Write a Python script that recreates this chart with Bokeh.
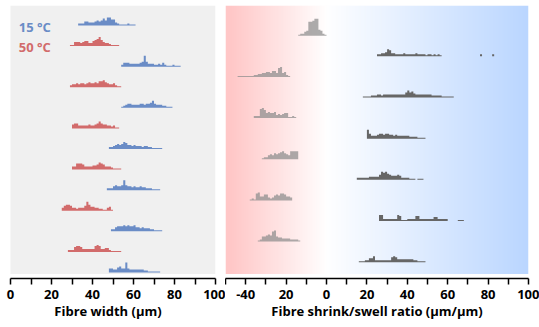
import numpy as np
from bokeh.plotting import figure
from bokeh.layouts import row
from bokeh.models import FixedTicker, Range1d, Label
from bokeh.embed import file_html
from bokeh.resources import INLINE

# ---------------- data (histogram counts per 1 µm bin) ----------------
# Fibre width, rows from top to bottom alternate 15 °C / 50 °C
width_starts = [33, 29, 54, 29, 54, 30, 48, 30, 47, 25, 49, 28, 48]
width_temps = ["15", "50", "15", "50", "15", "50", "15", "50", "15", "50", "15", "50", "15"]
width_counts = [
    [2, 2, 2, 4, 4, 3, 3, 3, 4, 5, 4, 5, 7, 5, 8, 8, 6, 6, 3, 2, 1, 1, 1, 1, 2, 1, 1, 1],
    [1, 1, 4, 4, 4, 3, 4, 5, 5, 3, 3, 5, 6, 7, 9, 6, 4, 3, 3, 2, 1, 1, 1, 1],
    [2, 4, 4, 4, 3, 3, 3, 3, 3, 4, 5, 11, 5, 3, 3, 3, 2, 2, 3, 2, 4, 2, 1, 1, 1, 2, 1, 1, 1],
    [2, 3, 3, 4, 3, 4, 4, 3, 4, 5, 4, 4, 5, 4, 6, 6, 7, 5, 4, 3, 3, 4, 2, 1, 1],
    [1, 2, 3, 4, 4, 3, 3, 3, 3, 4, 4, 3, 4, 4, 5, 7, 4, 3, 3, 3, 2, 2, 1, 1, 1],
    [4, 5, 5, 3, 3, 3, 3, 3, 4, 3, 3, 4, 5, 7, 5, 4, 4, 3, 3, 2, 3, 1, 1],
    [2, 2, 3, 4, 5, 4, 5, 7, 6, 4, 4, 3, 4, 3, 3, 3, 2, 3, 3, 2, 2, 1, 1, 1, 1, 1],
    [3, 3, 6, 6, 6, 5, 3, 3, 3, 3, 4, 4, 5, 7, 6, 5, 3, 3, 3, 2, 1, 1, 1, 1],
    [2, 2, 2, 4, 5, 4, 4, 5, 10, 5, 4, 4, 3, 4, 3, 3, 4, 3, 3, 2, 2, 2, 1, 1, 1, 1],
    [3, 5, 6, 6, 5, 3, 3, 2, 3, 3, 3, 5, 9, 6, 4, 4, 3, 3, 2, 2, 1, 1, 3, 4, 1],
    [2, 2, 4, 5, 5, 5, 6, 5, 6, 5, 5, 6, 4, 4, 3, 4, 3, 3, 3, 2, 2, 1, 1, 1, 1],
    [2, 2, 2, 5, 6, 6, 5, 3, 3, 3, 3, 3, 3, 6, 7, 6, 3, 3, 4, 4, 2, 1, 1, 1, 1, 1],
    [4, 4, 3, 3, 5, 6, 4, 4, 10, 4, 3, 3, 3, 3, 3, 3, 3, 2, 2, 1, 1, 1, 1, 1, 1],
]

# Fibre shrink/swell ratio, rows from top to bottom
ratio_starts = [-14, 25, -44, 18, -36, 20, -32, 15, -38, 26, -34, 16]
ratio_counts = [
    [1, 2, 2, 4, 5, 14, 14, 15, 17, 17, 6, 5, 2, 1],
    [2, 2, 3, 3, 4, 7, 6, 3, 3, 2, 2, 2, 2, 3, 2, 2, 2, 2, 2, 3, 2, 2, 2, 2, 1, 2, 2, 1, 2, 1, 2, 1,
     0, 0, 0, 0, 0, 0, 0, 0, 0, 0, 0, 0, 0, 0, 0, 0, 0, 0, 0, 2, 0, 0, 0, 0, 0, 2],
    [1, 1, 1, 1, 1, 1, 1, 1, 2, 2, 3, 3, 4, 4, 5, 5, 4, 6, 6, 4, 9, 10, 4, 5, 2, 1],
    [1, 1, 1, 1, 2, 2, 2, 3, 3, 2, 3, 3, 3, 3, 3, 3, 3, 3, 3, 3, 3, 5, 7, 5, 6, 4, 3, 3, 3, 3, 3, 3,
     3, 3, 2, 2, 2, 2, 2, 1, 1, 1, 1, 1, 1],
    [2, 2, 2, 9, 10, 8, 5, 6, 5, 5, 6, 3, 4, 3, 4, 5, 5, 1, 1, 2, 1],
    [9, 5, 3, 3, 3, 4, 5, 5, 4, 5, 5, 4, 4, 3, 4, 3, 3, 3, 3, 3, 3, 2, 2, 2, 2, 1, 1, 1, 1],
    [1, 2, 2, 4, 5, 4, 6, 5, 6, 7, 8, 6, 5, 4, 8, 8, 8, 8],
    [2, 2, 2, 2, 2, 2, 3, 3, 3, 3, 3, 5, 8, 7, 8, 6, 5, 4, 4, 4, 5, 4, 2, 2, 2, 2, 1, 1, 1, 0, 1, 1, 1],
    [1, 2, 1, 7, 8, 4, 4, 6, 6, 3, 2, 3, 5, 6, 5, 7, 7, 6, 4, 4, 3],
    [6, 6, 2, 2, 2, 2, 2, 2, 2, 6, 5, 1, 1, 1, 2, 2, 2, 2, 5, 5, 2, 2, 2, 2, 2, 2, 2, 4, 4, 2, 2, 2,
     2, 2, 0, 0, 0, 0, 0, 1, 1, 1],
    [1, 2, 5, 5, 6, 7, 6, 10, 11, 5, 4, 4, 3, 3, 3, 3, 2, 2, 2, 2, 1],
    [1, 1, 1, 2, 2, 4, 4, 6, 2, 2, 2, 2, 2, 2, 2, 2, 5, 6, 5, 3, 3, 3, 3, 3, 3, 3, 3, 2, 2, 1, 1, 1, 1],
]

width_ticks = [0, 20, 40, 60, 80, 100]
width_minor = [10, 30, 50, 70, 90]
ratio_ticks = [-40, -20, 0, 20, 40, 60, 80, 100]
ratio_minor = [-50, -30, -10, 10, 30, 50, 70, 90]
ratio_tick_labels = ["-40", "20", "0", "20", "40", "60", "80", "100"]

# ---------------- styling ----------------
BLUE = "#6a8cc6"
RED = "#d26b6b"
DARK = "#666666"
LIGHT = "#8c8c8c"
FONT = "Open Sans"

H = 327
TOP = 5           # page top to panel top
ROW = 20.58       # vertical pitch between rows (px)
TOP_GAP = 20.0    # panel top to first row baseline
FRAME_H = 273
PANEL_BOTTOM = -268.5


def step_poly(start, counts, base):
    edges = start + np.arange(len(counts) + 1)
    xs = [float(edges[0])]
    ys = [base]
    for k, c in enumerate(counts):
        xs += [float(edges[k]), float(edges[k + 1])]
        ys += [base + c, base + c]
    xs.append(float(edges[-1]))
    ys.append(base)
    return xs, ys


def style_axis(ax, ticks, minor, title):
    ax.ticker = FixedTicker(ticks=ticks, minor_ticks=minor)
    ax.axis_label = title
    ax.axis_line_color = "black"
    ax.axis_line_width = 1.5
    ax.major_tick_line_color = "black"
    ax.minor_tick_line_color = "black"
    ax.major_tick_line_width = 1.5
    ax.minor_tick_line_width = 1.5
    ax.major_tick_in = 0
    ax.major_tick_out = 6
    ax.minor_tick_in = 0
    ax.minor_tick_out = 6
    ax.major_label_text_font = FONT
    ax.major_label_text_font_style = "bold"
    ax.major_label_text_font_size = "13px"
    ax.major_label_text_color = "black"
    ax.major_label_standoff = 5
    ax.axis_label_text_font = FONT
    ax.axis_label_text_font_style = "bold"
    ax.axis_label_text_font_size = "13px"
    ax.axis_label_text_color = "black"
    ax.axis_label_standoff = 0


def make_fig(width, xr, border_right):
    p = figure(width=width, height=H, x_range=xr, y_range=Range1d(-FRAME_H, 0),
               output_backend="svg", toolbar_location=None, y_axis_location=None,
               min_border_left=0, min_border_right=border_right, min_border_top=TOP,
               min_border_bottom=H - FRAME_H - TOP)
    p.grid.visible = False
    p.outline_line_color = None
    p.background_fill_color = "white"
    p.border_fill_color = "white"
    return p


# ---------------- left panel: fibre width ----------------
p1 = make_fig(225, Range1d(-10 / 2.05, 100), 10)
p1.quad(left=0, right=100, bottom=PANEL_BOTTOM, top=0, fill_color="#f0f0f0", line_color=None)

for temp, color in (("15", BLUE), ("50", RED)):
    xs, ys = [], []
    for i, (s, c) in enumerate(zip(width_starts, width_counts)):
        if width_temps[i] != temp:
            continue
        px, py = step_poly(s, c, -(TOP_GAP + ROW * i))
        xs.append(px)
        ys.append(py)
    p1.patches(xs, ys, fill_color=color, line_color=None)

for i, (temp, color) in enumerate((("15", BLUE), ("50", RED))):
    p1.add_layout(Label(x=4, y=-(TOP_GAP + ROW * i) - 1, text=f"{temp} °C",
                        text_font=FONT, text_font_style="bold", text_font_size="13px",
                        text_color=color, text_baseline="alphabetic"))

ax1 = p1.xaxis[0]
style_axis(ax1, width_ticks, width_minor, "Fibre width (µm)")
ax1.bounds = (0, 100)

# ---------------- right panel: shrink/swell ratio ----------------
p2 = make_fig(314, Range1d(-50, 100), 11)

N = 300
gx = np.linspace(-50, 100, N)
pink = np.array([255, 199, 199])
white = np.array([255, 255, 255])
blue = np.array([186, 214, 255])
cols = np.zeros((N, 3))
for k, x in enumerate(gx):
    if x < 0:
        t = min(1.0, -x / 48.0)
        cols[k] = white * (1 - t) + pink * t
    else:
        t = x / 100.0
        cols[k] = white * (1 - t) + blue * t
img = np.empty((1, N), dtype=np.uint32)
view = img.view(dtype=np.uint8).reshape((1, N, 4))
view[0, :, 0] = cols[:, 0].astype(np.uint8)
view[0, :, 1] = cols[:, 1].astype(np.uint8)
view[0, :, 2] = cols[:, 2].astype(np.uint8)
view[0, :, 3] = 255
p2.image_rgba(image=[img], x=-50, y=PANEL_BOTTOM, dw=150, dh=-PANEL_BOTTOM)

for shrink in (True, False):
    xs, ys = [], []
    for j, (s, c) in enumerate(zip(ratio_starts, ratio_counts)):
        if (s < 0) != shrink:
            continue
        px, py = step_poly(s, c, -(TOP_GAP + ROW / 2 + ROW * j))
        xs.append(px)
        ys.append(py)
    if shrink:
        p2.patches(xs, ys, fill_color=LIGHT, fill_alpha=0.72, line_color=None)
    else:
        p2.patches(xs, ys, fill_color=DARK, line_color=None)

ax2 = p2.xaxis[0]
style_axis(ax2, ratio_ticks, ratio_minor, "Fibre shrink/swell ratio (µm/µm)")
ax2.major_label_overrides = {t: lab for t, lab in zip(ratio_ticks, ratio_tick_labels)}

layout = row(p1, p2)
open("out.html", "w").write(file_html(layout, INLINE))
